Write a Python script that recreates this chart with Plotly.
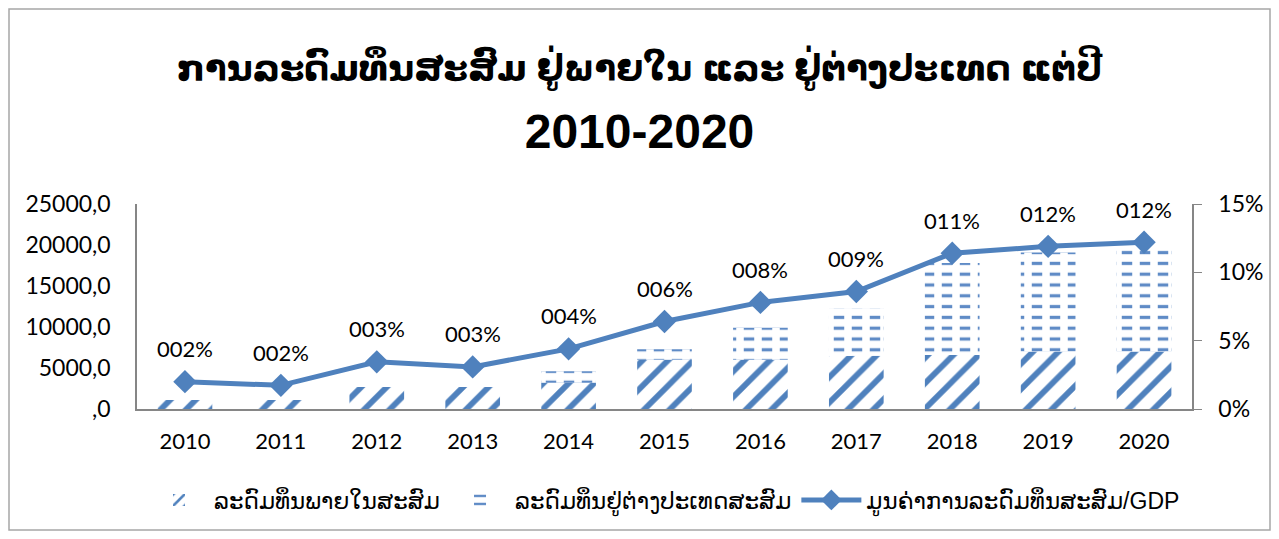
import plotly.graph_objects as go

years = ["2010", "2011", "2012", "2013", "2014", "2015", "2016", "2017", "2018", "2019", "2020"]
domestic = [1100, 1100, 2800, 2800, 3200, 6000, 6000, 6500, 6600, 7000, 7000]
foreign = [100, 100, 100, 100, 1400, 1300, 3900, 5800, 11200, 12100, 13000]
ratio_pct = [2.0, 1.73, 3.45, 3.08, 4.4, 6.4, 7.8, 8.6, 11.4, 11.9, 12.2]
ratio_labels = [f"{round(v):03d}%" for v in ratio_pct]

left_ticks = [0, 5000, 10000, 15000, 20000, 25000]
left_ticktext = [",0", "5000,0", "10000,0", "15000,0", "20000,0", "25000,0"]
right_ticks = [0, 5, 10, 15]
right_ticktext = ["0%", "5%", "10%", "15%"]

name_dom = "ລະດົມທຶນພາຍໃນສະສົມ"
name_for = "ລະດົມທຶນຢູ່ຕ່າງປະເທດສະສົມ"
name_ratio = "ມູນຄ່າການລະດົມທຶນສະສົມ/GDP"
title_line1 = "ການລະດົມທຶນສະສົມ ຢູ່ພາຍໃນ ແລະ ຢູ່ຕ່າງປະເທດ ແຕ່ປີ"
title_line2 = "2010-2020"

BLUE = "#4F81BD"
DASH_BLUE = "#5F8BC6"
num_font = "Lato, Open Sans, sans-serif"
lao_font = "Liberation Sans, DejaVu Sans, sans-serif"

fig = go.Figure()
fig.add_trace(go.Bar(
    x=years, y=domestic, base=[0] * len(years), name=name_dom, opacity=1,
    marker=dict(color="white", line=dict(width=0), opacity=1,
                pattern=dict(shape="/", fgcolor=BLUE, bgcolor="white", size=18, solidity=0.32,
                             fgopacity=1)),
))
fig.add_trace(go.Bar(
    x=years, y=foreign, base=domestic, name=name_for, opacity=1,
    marker=dict(color="white", line=dict(width=0), opacity=1,
                pattern=dict(shape="-", fgcolor=DASH_BLUE, bgcolor="white", size=10.8, solidity=0.3,
                             fgopacity=1)),
))
# white vertical gaps turn the horizontal lines into dashes
fig.add_trace(go.Bar(
    x=years, y=foreign, base=domestic, showlegend=False, hoverinfo="skip", opacity=1,
    marker=dict(color="rgba(0,0,0,0)", line=dict(width=0),
                pattern=dict(shape="|", fgcolor="white", bgcolor="rgba(0,0,0,0)", size=18, solidity=0.42,
                             fgopacity=1)),
))
fig.add_trace(go.Scatter(
    x=years, y=ratio_pct, yaxis="y2", name=name_ratio, mode="lines+markers",
    line=dict(color=BLUE, width=5),
    marker=dict(symbol="diamond", size=18, color=BLUE),
))

for i, (v, lab) in enumerate(zip(ratio_pct, ratio_labels)):
    fig.add_annotation(x=i, y=v, xref="x", yref="y2", text=lab, showarrow=False,
                       yshift=33, font=dict(family=num_font, size=22, color="black"))

# page has an 8px body margin, so the figure starts at (8, 8) in the window
W, H = 1263, 523
L, R, T, B = 129, 79, 196, 122
pw, ph = W - L - R, H - T - B
fig.add_shape(type="rect", xref="paper", yref="paper",
              x0=-(L - 1) / pw, x1=1 + (R - 1) / pw, y0=-(B - 1) / ph, y1=1 + (T - 1) / ph,
              line=dict(color="#A6A6A6", width=1.5), fillcolor="rgba(0,0,0,0)", layer="below")

title_text = (f"<span style='font-size:35.5px'>{title_line1}</span><br>"
              f"<span style='font-size:48px'>{title_line2}</span>")

fig.update_layout(
    width=W, height=H,
    margin=dict(l=L, r=R, t=T, b=B, autoexpand=False),
    paper_bgcolor="white", plot_bgcolor="white",
    barmode="overlay", bargap=0.43,
    title=dict(text=title_text, x=0.5, xanchor="center", y=1 - 72 / H, yanchor="middle",
               font=dict(family=lao_font, size=52, color="black", weight="bold")),
    xaxis=dict(type="category", range=[-0.5, len(years) - 0.5], autorange=False,
               showgrid=False, showline=True, linecolor="#868686", linewidth=2,
               ticks="", tickfont=dict(family=num_font, size=22, color="black"),
               ticklabelstandoff=12, fixedrange=True),
    yaxis=dict(range=[0, 25000], tickvals=left_ticks, ticktext=left_ticktext,
               showgrid=False, zeroline=False, showline=True, linecolor="#868686", linewidth=1.5,
               ticks="", ticklabelstandoff=20,
               tickfont=dict(family=num_font, size=23, color="black")),
    yaxis2=dict(range=[0, 15], overlaying="y", side="right", tickvals=right_ticks,
                ticktext=right_ticktext, showgrid=False, zeroline=False, showline=True,
                linecolor="#868686", linewidth=1.5, ticks="outside", ticklen=8,
                tickcolor="#868686", ticklabelstandoff=12,
                tickfont=dict(family=num_font, size=23, color="black")),
    legend=dict(orientation="h", x=0.5, xanchor="center", y=-(492 - 401) / ph,
                yanchor="middle", font=dict(family=lao_font, size=23, color="black"), itemwidth=60,
                bgcolor="rgba(0,0,0,0)"),
    showlegend=True,
)

fig.write_html("out.html")
